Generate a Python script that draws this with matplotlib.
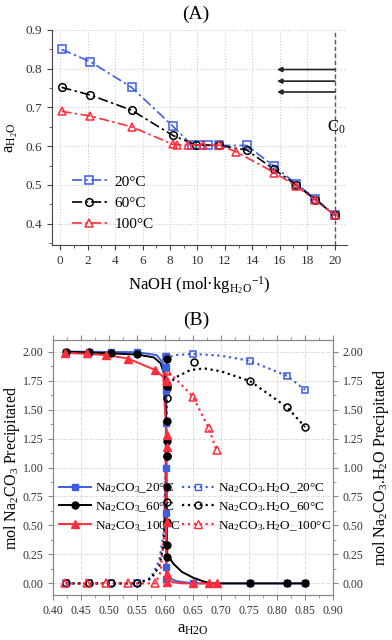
import matplotlib
matplotlib.use("Agg")
import matplotlib.pyplot as plt
from matplotlib.ticker import MultipleLocator, FormatStrFormatter
from matplotlib.lines import Line2D

plt.rcParams['font.family'] = ['Liberation Serif', 'DejaVu Serif']
plt.rcParams['mathtext.fontset'] = 'custom'
plt.rcParams['mathtext.rm'] = 'Liberation Serif'
plt.rcParams['mathtext.it'] = 'Liberation Serif:italic'
plt.rcParams['mathtext.bf'] = 'Liberation Serif:bold'

BLUE = '#3d5ee0'
RED = '#ff2d3c'
BLACK = '#000000'

# ---------------- Panel A data ----------------
a_x20 = [0.1, 2.2, 5.2, 8.2, 9.6, 10.2, 10.8, 11.6, 13.6, 15.6, 17.2, 18.6, 20.0]
a_y20 = [0.850, 0.818, 0.752, 0.652, 0.603, 0.603, 0.603, 0.602, 0.602, 0.548, 0.503, 0.465, 0.423]
a_x60 = [0.1, 2.2, 5.2, 8.2, 9.9, 11.6, 13.6, 15.6, 17.2, 18.6, 20.0]
a_y60 = [0.752, 0.732, 0.693, 0.628, 0.603, 0.602, 0.590, 0.540, 0.500, 0.462, 0.422]
a_x100 = [0.1, 2.2, 5.2, 8.2, 8.5, 9.3, 10.4, 11.6, 12.8, 15.6, 17.2, 18.6, 20.0]
a_y100 = [0.690, 0.678, 0.650, 0.605, 0.604, 0.603, 0.604, 0.602, 0.586, 0.532, 0.497, 0.460, 0.422]
arrow_y = [0.798, 0.768, 0.740]
arrow_x = [20.0, 15.8]
c0_x = 20.0

# ---------------- Panel B data ----------------
# Na2CO3 (solid)
b_x20 = [0.424, 0.464, 0.504, 0.550, 0.602, 0.602, 0.602, 0.602, 0.602, 0.602, 0.602, 0.602, 0.650, 0.752, 0.818, 0.850]
b_y20 = [2.00, 2.00, 1.995, 1.995, 1.96, 1.87, 1.66, 1.38, 1.00, 0.61, 0.14, 0.04, 0.0, 0.0, 0.0, 0.0]
b_x60 = [0.424, 0.464, 0.504, 0.550, 0.603, 0.603, 0.603, 0.603, 0.603, 0.603, 0.603, 0.603, 0.603, 0.752, 0.818, 0.850]
b_y60 = [2.00, 1.995, 1.985, 1.975, 1.94, 1.70, 1.40, 1.23, 1.10, 0.83, 0.53, 0.33, 0.23, 0.0, 0.0, 0.0]
b_x100 = [0.422, 0.460, 0.495, 0.534, 0.583, 0.603, 0.603, 0.603, 0.603, 0.603, 0.603, 0.650, 0.678, 0.692]
b_y100 = [1.99, 1.985, 1.97, 1.94, 1.84, 1.75, 1.28, 1.18, 0.53, 0.08, 0.01, 0.0, 0.0, 0.0]
# Smooth curve traces (lines only)
c_x20 = [0.424, 0.55, 0.585, 0.597, 0.601, 0.602, 0.602, 0.606, 0.62, 0.65, 0.85]
c_y20 = [2.00, 1.995, 1.97, 1.90, 1.75, 1.2, 0.07, 0.05, 0.02, 0.0, 0.0]
c_x60 = [0.424, 0.55, 0.58, 0.592, 0.599, 0.602, 0.603, 0.604, 0.615, 0.63, 0.65, 0.67, 0.685, 0.85]
c_y60 = [2.00, 1.975, 1.95, 1.90, 1.80, 1.4, 0.6, 0.25, 0.17, 0.10, 0.05, 0.015, 0.0, 0.0]
c_x100 = [0.422, 0.495, 0.534, 0.583, 0.597, 0.602, 0.603, 0.604, 0.615, 0.63, 0.692]
c_y100 = [1.99, 1.97, 1.94, 1.84, 1.78, 1.3, 0.05, 0.03, 0.01, 0.0, 0.0]

# Na2CO3.H2O (dotted)
h_x20 = [0.424, 0.464, 0.504, 0.550, 0.602, 0.602, 0.650, 0.752, 0.818, 0.850]
h_y20 = [0.0, 0.0, 0.0, 0.0, 1.86, 1.95, 1.98, 1.92, 1.79, 1.67]
h_x60 = [0.424, 0.464, 0.504, 0.550, 0.603, 0.603, 0.603, 0.603, 0.652, 0.752, 0.818, 0.850]
h_y60 = [0.0, 0.0, 0.0, 0.0, 0.70, 1.10, 1.60, 1.69, 1.91, 1.745, 1.52, 1.35]
h_x100 = [0.422, 0.460, 0.495, 0.534, 0.583, 0.603, 0.603, 0.650, 0.678, 0.692]
h_y100 = [0.0, 0.0, 0.0, 0.0, 0.0, 1.83, 1.75, 1.61, 1.34, 1.15]
hc_x20 = [0.424, 0.55, 0.575, 0.59, 0.598, 0.601, 0.602, 0.603, 0.62, 0.65, 0.70, 0.752, 0.818, 0.85]
hc_y20 = [0.0, 0.0, 0.05, 0.2, 0.45, 0.9, 1.5, 1.95, 1.97, 1.98, 1.965, 1.92, 1.79, 1.67]
hc_x60 = [0.424, 0.55, 0.575, 0.59, 0.598, 0.601, 0.603, 0.606, 0.62, 0.645, 0.67, 0.70, 0.752, 0.818, 0.85]
hc_y60 = [0.0, 0.0, 0.04, 0.15, 0.35, 0.8, 1.6, 1.72, 1.78, 1.84, 1.855, 1.83, 1.745, 1.52, 1.35]
hc_x100 = [0.422, 0.583, 0.592, 0.598, 0.602, 0.603, 0.62, 0.65, 0.678, 0.692]
hc_y100 = [0.0, 0.0, 0.1, 0.4, 1.2, 1.83, 1.76, 1.61, 1.34, 1.15]

fig = plt.figure(figsize=(3.92, 6.4), dpi=100)

# ================= Panel A =================
axA = fig.add_axes([52/392, 1-245/640, (347-52)/392, (245-30)/640])
axA.plot(a_x20, a_y20, color=BLUE, ls=(0, (6, 2, 1.5, 2)), lw=1.2, marker='s', ms=5.5,
         mfc='none', mec=BLUE, mew=1.1, label='20°C', zorder=3)
axA.plot(a_x60, a_y60, color=BLACK, ls=(0, (6, 2, 1.5, 2)), lw=1.2, marker='o', ms=5.5,
         mfc='none', mec=BLACK, mew=1.1, label='60°C', zorder=3)
axA.plot(a_x100, a_y100, color=RED, ls=(0, (6, 2, 1.5, 2)), lw=1.2, marker='^', ms=6,
         mfc='none', mec=RED, mew=1.1, label='100°C', zorder=4)
axA.axvline(c0_x, color='#555555', ls='--', lw=1.0, dashes=(3, 2), zorder=2)
for yv in arrow_y:
    axA.annotate('', xy=(arrow_x[1], yv), xytext=(arrow_x[0], yv),
                 arrowprops=dict(arrowstyle='-|>', color='#222222', lw=1.2,
                                 mutation_scale=7, shrinkA=0, shrinkB=0))
axA.text(c0_x + 0.1, 0.648, 'C$_0$', ha='center', va='center', fontsize=12)
axA.set_xlim(-0.6, 20.9)
axA.set_ylim(0.345, 0.9)
axA.xaxis.set_major_locator(MultipleLocator(2))
axA.xaxis.set_minor_locator(MultipleLocator(1))
axA.yaxis.set_major_locator(MultipleLocator(0.1))
axA.yaxis.set_minor_locator(MultipleLocator(0.05))
axA.yaxis.set_major_formatter(FormatStrFormatter('%.1f'))
axA.grid(True, which='major', color='#cccccc', ls=':', lw=0.8)
for s in ['top', 'right']:
    axA.spines[s].set_visible(False)
for s in ['left', 'bottom']:
    axA.spines[s].set_color('#444444')
axA.tick_params(which='both', direction='out', colors='#444444', labelcolor='#333333', labelsize=9.5)
axA.tick_params(which='major', length=3.5)
axA.tick_params(which='minor', length=2)
axA.set_xlabel('NaOH (mol·kg$_{\\mathrm{H_2O}}$$^{-1}$)', fontsize=12, labelpad=5)
axA.set_ylabel('a$_{\\mathrm{H_2O}}$', fontsize=12, labelpad=4)
fig.text(0.5, 1 - 14/640, '(A)', ha='center', va='center', fontsize=14)
axA.legend(loc='lower left', bbox_to_anchor=(0.02, 0.0), frameon=False, fontsize=11,
           handlelength=2.3, labelspacing=0.5, handletextpad=0.5)

# ================= Panel B =================
axB = fig.add_axes([53/392, 1-595/640, (333-53)/392, (595-340)/640])
# smooth traces
axB.plot(hc_x20, hc_y20, color=BLUE, ls=':', lw=1.6, zorder=2)
axB.plot(hc_x60, hc_y60, color=BLACK, ls=':', lw=1.6, zorder=2)
axB.plot(hc_x100, hc_y100, color=RED, ls=':', lw=1.6, zorder=2)
axB.plot(c_x20, c_y20, color=BLUE, ls='-', lw=1.4, zorder=3)
axB.plot(c_x60, c_y60, color=BLACK, ls='-', lw=1.4, zorder=3)
axB.plot(c_x100, c_y100, color=RED, ls='-', lw=1.4, zorder=4)
# markers
axB.plot(b_x20, b_y20, ls='none', marker='s', ms=5, color=BLUE, zorder=5)
axB.plot(b_x60, b_y60, ls='none', marker='o', ms=5, color=BLACK, zorder=5)
axB.plot(b_x100, b_y100, ls='none', marker='^', ms=5.5, color=RED, zorder=6)
axB.plot(h_x20, h_y20, ls='none', marker='s', ms=5, mfc='none', mec=BLUE, mew=1.1, zorder=4)
axB.plot(h_x60, h_y60, ls='none', marker='o', ms=5, mfc='none', mec=BLACK, mew=1.1, zorder=4)
axB.plot(h_x100, h_y100, ls='none', marker='^', ms=5.5, mfc='none', mec=RED, mew=1.1, zorder=4)

leg1_handles = [Line2D([], [], color=BLUE, ls='-', lw=1.4, marker='s', ms=5),
                Line2D([], [], color=BLACK, ls='-', lw=1.4, marker='o', ms=5),
                Line2D([], [], color=RED, ls='-', lw=1.4, marker='^', ms=5.5)]
leg1_labels = ['Na$_2$CO$_3$_20°C', 'Na$_2$CO$_3$_60°C', 'Na$_2$CO$_3$_100°C']
leg2_handles = [Line2D([], [], color=BLUE, ls=':', lw=1.6, marker='s', ms=5, mfc='none', mec=BLUE),
                Line2D([], [], color=BLACK, ls=':', lw=1.6, marker='o', ms=5, mfc='none', mec=BLACK),
                Line2D([], [], color=RED, ls=':', lw=1.6, marker='^', ms=5.5, mfc='none', mec=RED)]
leg2_labels = ['Na$_2$CO$_3$.H$_2$O_20°C', 'Na$_2$CO$_3$.H$_2$O_60°C', 'Na$_2$CO$_3$.H$_2$O_100°C']
lg1 = axB.legend(leg1_handles, leg1_labels, loc='center left', bbox_to_anchor=(-0.02, 0.345),
                 frameon=False, fontsize=9.5, handlelength=2.4, labelspacing=0.4, handletextpad=0.3)
axB.add_artist(lg1)
axB.legend(leg2_handles, leg2_labels, loc='center left', bbox_to_anchor=(0.42, 0.345),
           frameon=False, fontsize=9.5, handlelength=2.4, labelspacing=0.4, handletextpad=0.3)

axB.set_xlim(0.4, 0.9)
axB.set_ylim(-0.1, 2.1)
axB.xaxis.set_major_locator(MultipleLocator(0.05))
axB.xaxis.set_minor_locator(MultipleLocator(0.025))
axB.yaxis.set_major_locator(MultipleLocator(0.25))
axB.yaxis.set_minor_locator(MultipleLocator(0.125))
axB.xaxis.set_major_formatter(FormatStrFormatter('%.2f'))
axB.yaxis.set_major_formatter(FormatStrFormatter('%.2f'))
axB.grid(True, which='major', color='#dddddd', ls='--', lw=0.7)
for s in axB.spines.values():
    s.set_color('#888888')
axB.tick_params(which='both', direction='out', colors='#888888', labelcolor='#333333',
                labelsize=8.5, top=True)
axB.tick_params(which='major', length=3.5)
axB.tick_params(which='minor', length=2)
axB.set_xlabel('a$_{\\mathrm{H2O}}$', fontsize=12, labelpad=3)
axB.set_ylabel('mol Na$_2$CO$_3$ Precipitated', fontsize=11.5)
axB.yaxis.set_label_coords(-0.112, 0.5)
fig.text(0.5, 1 - 320/640, '(B)', ha='center', va='center', fontsize=14)

axR = axB.twinx()
axR.set_ylim(axB.get_ylim())
axR.yaxis.set_major_locator(MultipleLocator(0.25))
axR.yaxis.set_minor_locator(MultipleLocator(0.125))
axR.yaxis.set_major_formatter(FormatStrFormatter('%.2f'))
for s in axR.spines.values():
    s.set_color('#888888')
axR.tick_params(which='both', direction='out', colors='#888888', labelcolor='#333333', labelsize=8.5)
axR.tick_params(which='major', length=3.5)
axR.tick_params(which='minor', length=2)
axR.set_ylabel('mol Na$_2$CO$_3$.H$_2$O Precipitated', fontsize=11.5, labelpad=5)

fig.savefig('out.png', dpi=100)
